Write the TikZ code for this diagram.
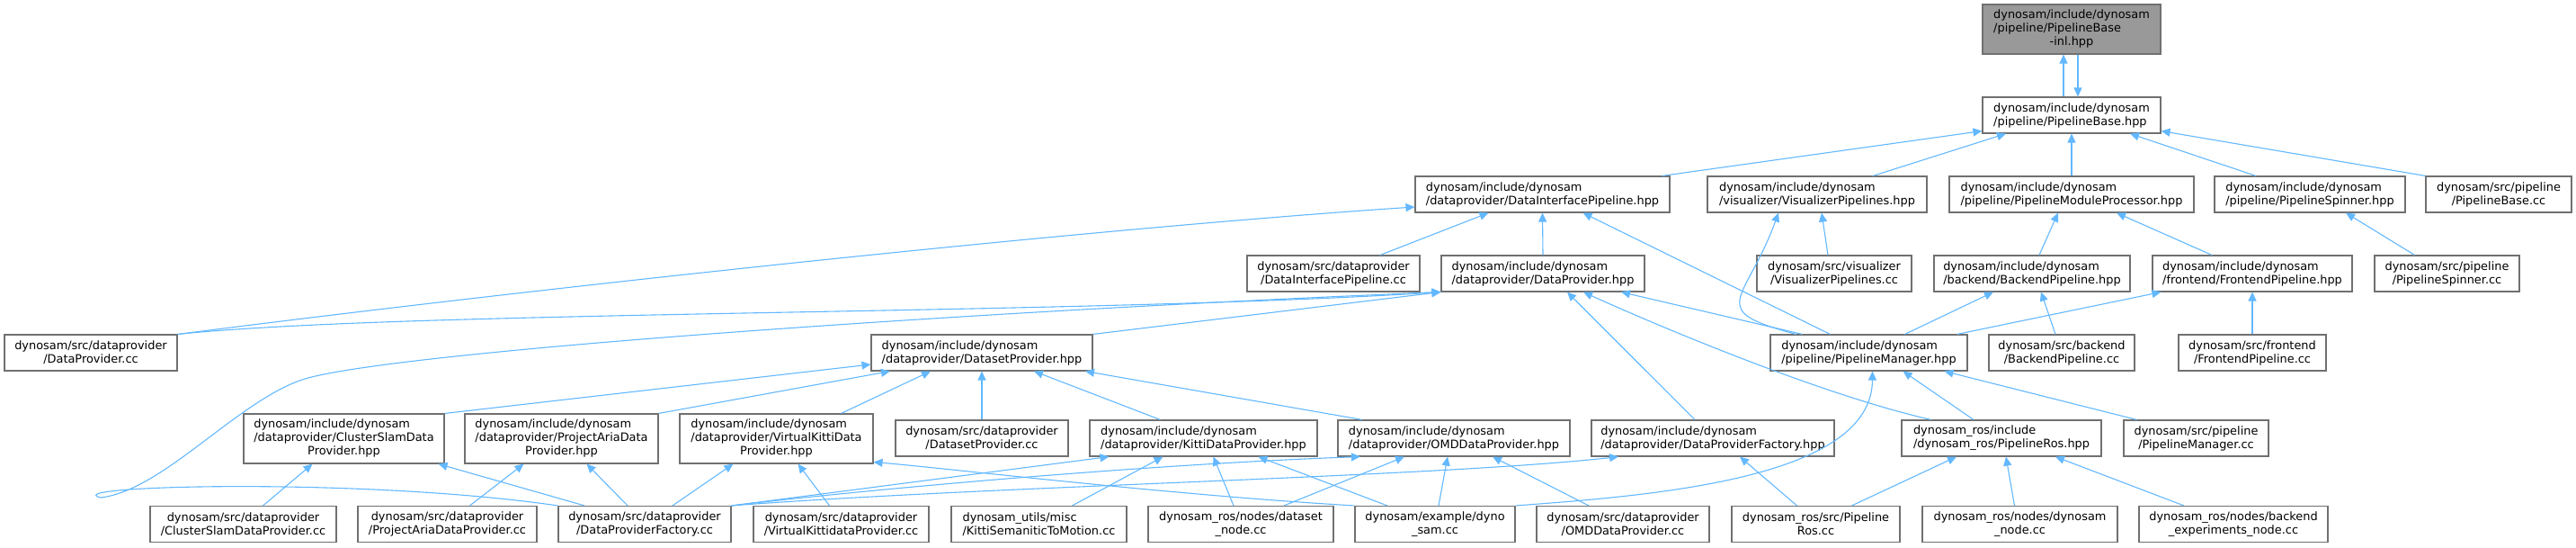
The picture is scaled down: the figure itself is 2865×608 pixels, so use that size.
\documentclass[tikz,border=0pt]{standalone}
\usepackage{fontspec}
\setmainfont{DejaVu Sans}
\usepackage{tikz}
\usetikzlibrary{arrows.meta}
\definecolor{DGEdge}{HTML}{63B8FF}
\definecolor{DGBorder}{HTML}{707070}
\definecolor{DGFill}{HTML}{999999}
\newcommand{\trio}[3]{\begin{tabular}{@{}l@{}}#1\\#2\\\multicolumn{1}{@{}c@{}}{#3}\end{tabular}}

\begin{document}
\begin{tikzpicture}[x=1pt,y=-1pt,
  fnode/.style={draw=DGBorder,line width=1.1pt,fill=white,minimum height=40pt,inner xsep=0pt,inner ysep=0pt,font=\fontsize{12.9}{15}\selectfont},
  fcur/.style={fnode,fill=DGFill},
  incl/.style={draw=DGEdge,line width=1.1pt,-{Triangle[length=10pt,width=9pt]}}]
\path[use as bounding box] (0,0) rectangle (2865,608);
\node[fcur,minimum width=198pt,minimum height=55pt] (baseInl) at (2304,32.5) {\trio{dynosam/include/dynosam}{/pipeline/PipelineBase}{-inl.hpp}};
\node[fnode,minimum width=198pt,align=left] (baseHpp) at (2304,128) {dynosam/include/dynosam\\/pipeline/PipelineBase.hpp};
\node[fnode,minimum width=283pt,align=left] (dipHpp) at (1715.5,216) {dynosam/include/dynosam\\/dataprovider/DataInterfacePipeline.hpp};
\node[fnode,minimum width=244pt,align=left] (vphHpp) at (2021,216) {dynosam/include/dynosam\\/visualizer/VisualizerPipelines.hpp};
\node[fnode,minimum width=272pt,align=left] (pmpHpp) at (2304,216) {dynosam/include/dynosam\\/pipeline/PipelineModuleProcessor.hpp};
\node[fnode,minimum width=212pt,align=left] (pshHpp) at (2569,216) {dynosam/include/dynosam\\/pipeline/PipelineSpinner.hpp};
\node[fnode,minimum width=162pt,align=center] (pbcCc) at (2779,216) {dynosam/src/pipeline\\/PipelineBase.cc};
\node[fnode,minimum width=192pt,align=center] (dipcCc) at (1483,304) {dynosam/src/dataprovider\\/DataInterfacePipeline.cc};
\node[fnode,minimum width=226pt,align=left] (dphHpp) at (1716,304) {dynosam/include/dynosam\\/dataprovider/DataProvider.hpp};
\node[fnode,minimum width=172pt,align=center] (vpcCc) at (2040,304) {dynosam/src/visualizer\\/VisualizerPipelines.cc};
\node[fnode,minimum width=218pt,align=left] (bphHpp) at (2260,304) {dynosam/include/dynosam\\/backend/BackendPipeline.hpp};
\node[fnode,minimum width=222pt,align=left] (fphHpp) at (2505,304) {dynosam/include/dynosam\\/frontend/FrontendPipeline.hpp};
\node[fnode,minimum width=161pt,align=center] (pscCc) at (2721.5,304) {dynosam/src/pipeline\\/PipelineSpinner.cc};
\node[fnode,minimum width=192pt,align=center] (dpcCc) at (101,392) {dynosam/src/dataprovider\\/DataProvider.cc};
\node[fnode,minimum width=246pt,align=left] (dshHpp) at (1092,392) {dynosam/include/dynosam\\/dataprovider/DatasetProvider.hpp};
\node[fnode,minimum width=219pt,align=left] (pmhHpp) at (2078.5,392) {dynosam/include/dynosam\\/pipeline/PipelineManager.hpp};
\node[fnode,minimum width=162pt,align=center] (bpcCc) at (2293,392) {dynosam/src/backend\\/BackendPipeline.cc};
\node[fnode,minimum width=164pt,align=center] (fpcCc) at (2505,392) {dynosam/src/frontend\\/FrontendPipeline.cc};
\node[fnode,minimum width=223pt,minimum height=55pt] (cshHpp) at (382.5,487.5) {\trio{dynosam/include/dynosam}{/dataprovider/ClusterSlamData}{Provider.hpp}};
\node[fnode,minimum width=215pt,minimum height=55pt] (pahHpp) at (624.5,487.5) {\trio{dynosam/include/dynosam}{/dataprovider/ProjectAriaData}{Provider.hpp}};
\node[fnode,minimum width=215pt,minimum height=55pt] (vkhHpp) at (863.5,487.5) {\trio{dynosam/include/dynosam}{/dataprovider/VirtualKittiData}{Provider.hpp}};
\node[fnode,minimum width=192pt,align=center] (dscCc) at (1092,487) {dynosam/src/dataprovider\\/DatasetProvider.cc};
\node[fnode,minimum width=253pt,align=left] (kthHpp) at (1338.5,487) {dynosam/include/dynosam\\/dataprovider/KittiDataProvider.hpp};
\node[fnode,minimum width=258pt,align=left] (omhHpp) at (1617,487) {dynosam/include/dynosam\\/dataprovider/OMDDataProvider.hpp};
\node[fnode,minimum width=270pt,align=left] (dfhHpp) at (1905,487) {dynosam/include/dynosam\\/dataprovider/DataProviderFactory.hpp};
\node[fnode,minimum width=222pt,align=left] (prhHpp) at (2226,487) {dynosam\_ros/include\\/dynosam\_ros/PipelineRos.hpp};
\node[fnode,minimum width=161pt,align=center] (pmcCc) at (2442.5,487) {dynosam/src/pipeline\\/PipelineManager.cc};
\node[fnode,minimum width=207pt,align=center] (cscCc) at (270.5,582.5) {dynosam/src/dataprovider\\/ClusterSlamDataProvider.cc};
\node[fnode,minimum width=199pt,align=center] (pacCc) at (497.5,582.5) {dynosam/src/dataprovider\\/ProjectAriaDataProvider.cc};
\node[fnode,minimum width=192pt,align=center] (dfcCc) at (717,582.5) {dynosam/src/dataprovider\\/DataProviderFactory.cc};
\node[fnode,minimum width=195pt,align=center] (vkcCc) at (935.5,582.5) {dynosam/src/dataprovider\\/VirtualKittidataProvider.cc};
\node[fnode,minimum width=195pt,align=left] (ksmCc) at (1155.5,582.5) {dynosam\_utils/misc\\/KittiSemaniticToMotion.cc};
\node[fnode,minimum width=206pt,align=center] (dsnCc) at (1380,582.5) {dynosam\_ros/nodes/dataset\\\_node.cc};
\node[fnode,minimum width=178pt,align=center] (dynCc) at (1596,582.5) {dynosam/example/dyno\\\_sam.cc};
\node[fnode,minimum width=192pt,align=center] (omcCc) at (1805,582.5) {dynosam/src/dataprovider\\/OMDDataProvider.cc};
\node[fnode,minimum width=187pt,align=center] (prcCc) at (2019.5,582.5) {dynosam\_ros/src/Pipeline\\Ros.cc};
\node[fnode,minimum width=217pt,align=center] (dnnCc) at (2246.5,582.5) {dynosam\_ros/nodes/dynosam\\\_node.cc};
\node[fnode,minimum width=210pt,align=center] (benCc) at (2484,582.5) {dynosam\_ros/nodes/backend\\\_experiments\_node.cc};
\coordinate (loopTip) at (112,553);
\coordinate (loopBend) at (333,423);
\draw[incl] ([xshift=-9pt]baseHpp.north) -- ([xshift=-9pt]baseInl.south);
\draw[incl] ([xshift=7pt]baseInl.south) -- ([xshift=7pt]baseHpp.north);
\draw[incl] ([xshift=133pt]dipHpp.north) -- ([yshift=3pt]baseHpp.south west);
\draw[incl] ([xshift=62pt]vphHpp.north) -- ([xshift=-73pt]baseHpp.south);
\draw[incl] (pmpHpp.north) -- (baseHpp.south);
\draw[incl] ([xshift=-60pt]pshHpp.north) -- ([xshift=65pt]baseHpp.south);
\draw[incl] (pbcCc.north west) -- ([yshift=3pt]baseHpp.south east);
\draw[incl] (dpcCc.north east) .. controls (600,320) and (1200,255) .. ([yshift=-14pt]dipHpp.west);
\draw[incl] ([xshift=52pt]dipcCc.north) -- ([xshift=-60pt]dipHpp.south);
\draw[incl] (dphHpp.north) -- (dipHpp.south);
\draw[incl] ([xshift=-43pt]pmhHpp.north) -- ([xshift=45pt]dipHpp.south);
\draw[incl] ([xshift=-81pt]pmhHpp.north) to[out=165,in=250,looseness=2] ([xshift=-43pt]vphHpp.south);
\draw[incl] ([xshift=-7pt]vpcCc.north) -- ([xshift=5pt]vphHpp.south);
\draw[incl] ([xshift=8pt]bphHpp.north) -- ([xshift=-15pt]pmpHpp.south);
\draw[incl] ([xshift=-45pt]fphHpp.north) -- ([xshift=50pt]pmpHpp.south);
\draw[incl] ([xshift=-36pt]pscCc.north) -- ([xshift=40pt]pshHpp.south);
\draw[incl] (dpcCc.north east) .. controls (450,345) and (1200,350) .. (dphHpp.south west);
\draw[incl] (dfcCc.north west) .. controls (400,530) and (60,540) .. (loopTip) .. controls (180,545) and (260,450) .. (loopBend) .. controls (420,391) and (1100,345) .. (dphHpp.south west);
\draw[incl] (dshHpp.north east) -- (dphHpp.south west);
\draw[incl] ([xshift=-20pt]dfhHpp.north) -- ([xshift=27pt]dphHpp.south);
\draw[incl] ([xshift=-78pt]prhHpp.north) .. controls (2030,440) and (1850,365) .. ([xshift=45pt]dphHpp.south);
\draw[incl] ([xshift=-74pt]pmhHpp.north) -- ([xshift=87pt]dphHpp.south);
\draw[incl] ([xshift=40pt]pmhHpp.north) -- ([xshift=-43pt]bphHpp.south);
\draw[incl] ([xshift=-7pt]bpcCc.north) -- ([xshift=10pt]bphHpp.south);
\draw[incl] ([xshift=-12pt]pmhHpp.north east) -- ([xshift=10pt]fphHpp.south west);
\draw[incl] (fpcCc.north) -- (fphHpp.south);
\draw[incl] (cshHpp.north east) -- ([yshift=-13pt]dshHpp.west);
\draw[incl] (pahHpp.north east) -- ([xshift=-102pt]dshHpp.south);
\draw[incl] ([xshift=72pt]vkhHpp.north) -- ([xshift=-57pt]dshHpp.south);
\draw[incl] (dscCc.north) -- (dshHpp.south);
\draw[incl] ([xshift=-48pt]kthHpp.north) -- ([xshift=58pt]dshHpp.south);
\draw[incl] ([xshift=-102pt]omhHpp.north) -- ([xshift=115pt]dshHpp.south);
\draw[incl] ([xshift=-31pt]prhHpp.north) -- ([xshift=38pt]pmhHpp.south);
\draw[incl] ([xshift=-66pt]pmcCc.north) -- ([xshift=84pt]pmhHpp.south);
\draw[incl] (dynCc.north east) .. controls (1850,550) and (2082,530) .. ([xshift=4pt]pmhHpp.south);
\draw[incl] ([xshift=22pt]cscCc.north) -- ([xshift=-35pt]cshHpp.south);
\draw[incl] ([xshift=-67pt]dfcCc.north) -- ([xshift=-7pt]cshHpp.south east);
\draw[incl] ([xshift=25pt]pacCc.north) -- ([xshift=-42pt]pahHpp.south);
\draw[incl] ([xshift=-19pt]dfcCc.north) -- ([xshift=28pt]pahHpp.south);
\draw[incl] ([xshift=31pt]dfcCc.north) -- ([xshift=-48pt]vkhHpp.south);
\draw[incl] ([xshift=-13pt]vkcCc.north) -- ([xshift=24pt]vkhHpp.south);
\draw[incl] (dynCc.north west) .. controls (1300,550) and (1050,520) .. ([yshift=2pt]vkhHpp.south east);
\draw[incl] (dfcCc.north east) -- ([xshift=-105pt]kthHpp.south);
\draw[incl] ([xshift=37pt]ksmCc.north) -- ([xshift=-45pt]kthHpp.south);
\draw[incl] ([xshift=-8pt]dsnCc.north) -- ([xshift=11pt]kthHpp.south);
\draw[incl] ([xshift=-53pt]dynCc.north) -- ([xshift=61pt]kthHpp.south);
\draw[incl] (dfcCc.north east) .. controls (1000,540) and (1300,515) .. ([xshift=-104pt]omhHpp.south);
\draw[incl] ([xshift=48pt]dsnCc.north) -- ([xshift=-55pt]omhHpp.south);
\draw[incl] ([xshift=4pt]dynCc.north) -- ([xshift=-7pt]omhHpp.south);
\draw[incl] ([xshift=-38pt]omcCc.north) -- ([xshift=43pt]omhHpp.south);
\draw[incl] (dfcCc.north east) .. controls (1100,540) and (1600,530) .. ([xshift=-105pt]dfhHpp.south);
\draw[incl] ([xshift=-21pt]prcCc.north) -- ([xshift=30pt]dfhHpp.south);
\draw[incl] ([xshift=40pt]prcCc.north) -- ([xshift=-50pt]prhHpp.south);
\draw[incl] ([xshift=-6pt]dnnCc.north) -- ([xshift=5pt]prhHpp.south);
\draw[incl] ([xshift=-55pt]benCc.north) -- ([xshift=60pt]prhHpp.south);
\end{tikzpicture}
\end{document}
